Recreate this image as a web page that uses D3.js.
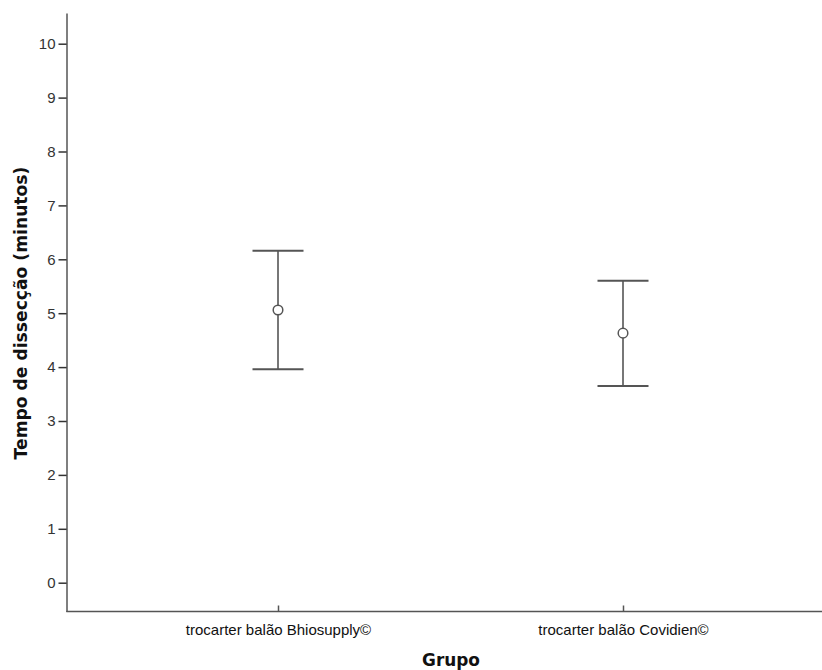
<!DOCTYPE html>
<html><head><meta charset="utf-8">
<script src="https://cdn.jsdelivr.net/npm/d3@7"></script>
<style>body{margin:0;background:#fff}svg{display:block}text{font-family:"Liberation Sans",Arial,sans-serif}</style>
</head><body>
<svg id="c" width="822" height="670"></svg>
<script>
const categories = ["trocarter balão Bhiosupply©", "trocarter balão Covidien©"];
const means = [5.06, 4.63];
const lower = [3.96, 3.65];
const upper = [6.16, 5.60];
const yTicks = [0,1,2,3,4,5,6,7,8,9,10];

const svg = d3.select("#c");
const y = d3.scaleLinear().domain([0,10]).range([582.7, 43.7]);
const x = d3.scalePoint().domain(categories).range([278, 623]);
const axisColor = "#555";

// y axis
const ya = svg.append("g").attr("transform","translate(67,0)")
  .call(d3.axisLeft(y).tickValues(yTicks).tickSize(8.5).tickPadding(3).tickFormat(d3.format("d")));
ya.select(".domain").remove();
ya.selectAll(".tick line").attr("stroke","#333").attr("stroke-width",1.5);
ya.selectAll(".tick text").attr("fill","#333").style("font-size","15px");
svg.append("line").attr("x1",67).attr("x2",67).attr("y1",13.5).attr("y2",612)
  .attr("stroke",axisColor).attr("stroke-width",1.5);

// x axis
svg.append("line").attr("x1",66.3).attr("x2",822).attr("y1",611.5).attr("y2",611.5)
  .attr("stroke",axisColor).attr("stroke-width",1.5);
const xa = svg.append("g").attr("transform","translate(0,611.5)")
  .call(d3.axisBottom(x).tickSize(-6).tickPadding(12));
xa.select(".domain").remove();
xa.selectAll(".tick line").attr("stroke","#555").attr("stroke-width",1.5);
xa.selectAll(".tick text").attr("fill","#111").style("font-size","15px").attr("y",13).attr("dy","0.71em");

// error bars
const g = svg.append("g");
categories.forEach((c,i)=>{
  const cx = x(c);
  g.append("line").attr("x1",cx).attr("x2",cx).attr("y1",y(upper[i])).attr("y2",y(lower[i]))
    .attr("stroke","#777").attr("stroke-width",2);
  [upper[i], lower[i]].forEach(v=>{
    g.append("line").attr("x1",cx-25.5).attr("x2",cx+25.5).attr("y1",y(v)).attr("y2",y(v))
      .attr("stroke","#555").attr("stroke-width",2);
  });
  g.append("circle").attr("cx",cx).attr("cy",y(means[i])).attr("r",4.8)
    .attr("fill","#fff").attr("stroke","#555").attr("stroke-width",1.5);
});

// labels
function fit(t, w){
  const len = t.node().getComputedTextLength();
  const fs = parseFloat(t.style("font-size"));
  t.style("font-size", (fs*w/len)+"px");
}
const yt = svg.append("text").attr("transform","translate(20.5,313) rotate(-90)").attr("text-anchor","middle")
  .attr("dy","0.36em")
  .style("font-family","'DejaVu Sans',Verdana,sans-serif")
  .style("font-size","16px").style("font-weight","bold").attr("fill","#111")
  .text("Tempo de dissecção (minutos)");
fit(yt, 293);
const xt = svg.append("text").attr("x",451).attr("y",666).attr("text-anchor","middle")
  .style("font-family","'DejaVu Sans',Verdana,sans-serif")
  .style("font-size","16px").style("font-weight","bold").attr("fill","#111").text("Grupo");
fit(xt, 58);
</script>
</body></html>
